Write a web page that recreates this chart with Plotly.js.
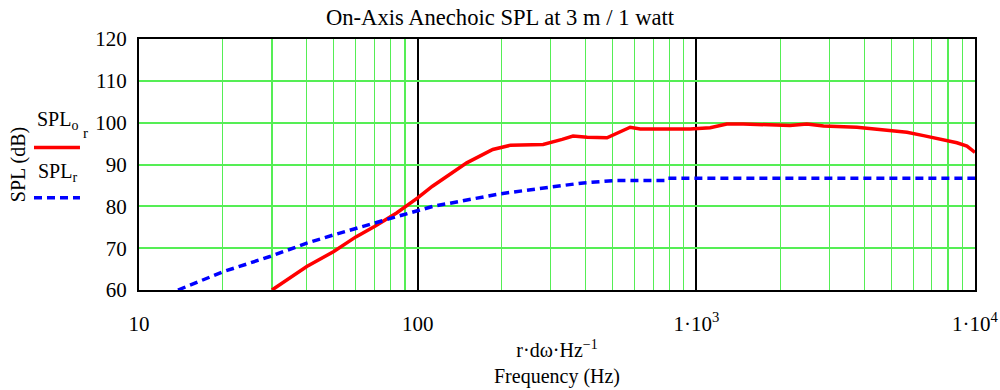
<!DOCTYPE html>
<html>
<head>
<meta charset="utf-8">
<script src="https://cdn.plot.ly/plotly-3.0.1.min.js"></script>
<style>html,body{margin:0;padding:0;background:#fff;}#chart{width:1000px;height:390px;}</style>
</head>
<body>
<div id="chart"></div>
<script>
// On-axis SPL (SPLo_r), red solid
const freqRed = [30, 40, 50, 60, 70, 84, 100, 113, 150, 186, 215, 282, 330, 361, 406, 478, 579, 629, 800, 950, 1121, 1286, 1473, 1790, 2168, 2492, 2860, 3769, 4323, 4963, 5699, 6535, 7500, 8610, 9357, 9885, 10000];
const splRed  = [60, 65.6, 69.2, 72.7, 75.2, 78.4, 82, 84.8, 90.4, 93.6, 94.6, 94.8, 96.0, 96.8, 96.5, 96.4, 98.9, 98.5, 98.5, 98.5, 98.8, 99.7, 99.7, 99.6, 99.3, 99.7, 99.2, 98.9, 98.5, 98.2, 97.7, 96.9, 96.1, 95.2, 94.4, 93.2, 92.9];
// SPL_r, blue dashed
const freqBlue = [13.8, 20.1, 29.5, 40, 51.3, 69.3, 88.9, 113.6, 150, 198, 299, 393, 518, 780, 790, 10000];
const splBlue  = [60, 64.4, 68.0, 71.2, 73.4, 76.0, 78.0, 80.0, 81.6, 83.0, 84.6, 85.6, 86.2, 86.2, 86.7, 86.7];
// Axis ticks
const xTickVals = [10, 100, 1000, 10000];
const xTickText = ["10", "100", "1\u00b710<sup>3</sup>", "1\u00b710<sup>4</sup>"];
const yTickVals = [60, 70, 80, 90, 100, 110, 120];

const minorVals = [];
for (let d = 10; d < 10000; d *= 10) for (let k = 2; k <= 9; k++) minorVals.push(k * d);

const FONT = "Liberation Serif";
const green = "#55ee55";

const traces = [
  {x: freqRed, y: splRed, type: "scatter", mode: "lines", name: "SPLo_r",
   line: {color: "#ff0000", width: 3.5}},
  {x: freqBlue, y: splBlue, type: "scatter", mode: "lines", name: "SPL_r",
   line: {color: "#0000ff", width: 3.5, dash: "8px,5px"}}
];

const layout = {
  width: 1000, height: 390,
  margin: {l: 139, r: 25, t: 39, b: 100},
  paper_bgcolor: "#fff", plot_bgcolor: "#fff",
  showlegend: false,
  font: {family: FONT, size: 20, color: "#000"},
  title: {text: "On-Axis Anechoic SPL at 3 m / 1 watt", font: {family: FONT, size: 22.6, color: "#000"},
          x: 0.5, xanchor: "center", y: 0.955, yanchor: "middle"},
  xaxis: {
    type: "log", range: [1, 4],
    tickvals: xTickVals, ticktext: xTickText, ticks: "",
    ticklabelstandoff: 14,
    showgrid: true, gridcolor: "#000", gridwidth: 2,
    minor: {tickvals: minorVals, showgrid: true, gridcolor: green, gridwidth: 1.2, ticks: ""},
    showline: true, linecolor: "#000", linewidth: 2, mirror: true,
    zeroline: false,
    tickfont: {family: FONT, size: 21},
    title: {text: "r\u00b7d\u03c9\u00b7Hz<sup>\u22121</sup><br>Frequency (Hz)", font: {family: FONT, size: 20}, standoff: 8}
  },
  yaxis: {
    range: [60, 120], tickvals: yTickVals, ticks: "",
    ticklabelstandoff: 6,
    showgrid: true, gridcolor: green, gridwidth: 2,
    showline: true, linecolor: "#000", linewidth: 2, mirror: true,
    zeroline: false,
    tickfont: {family: FONT, size: 21},
    title: {text: "SPL (dB)", font: {family: FONT, size: 20}, standoff: 64}
  },
  annotations: [
    {xref: "paper", yref: "paper", x: -0.125, y: 0.675, xanchor: "left", yanchor: "middle",
     text: "SPL<sub>o</sub>", showarrow: false, font: {family: FONT, size: 20}},
    {xref: "paper", yref: "paper", x: -0.0634, y: 0.625, xanchor: "center", yanchor: "middle",
     text: "r", showarrow: false, font: {family: FONT, size: 15}},
    {xref: "paper", yref: "paper", x: -0.123, y: 0.47, xanchor: "left", yanchor: "middle",
     text: "SPL<sub>r</sub>", showarrow: false, font: {family: FONT, size: 20}}
  ],
  shapes: [
    {type: "line", xref: "paper", yref: "paper", x0: -0.1256, x1: -0.0706, y0: 0.568, y1: 0.568,
     line: {color: "#ff0000", width: 3.5}},
    {type: "line", xref: "paper", yref: "paper", x0: -0.1256, x1: -0.0706, y0: 0.368, y1: 0.368,
     line: {color: "#0000ff", width: 3.5, dash: "8px,5px"}}
  ]
};

Plotly.newPlot("chart", traces, layout, {displayModeBar: false, staticPlot: true});
</script>
</body>
</html>
